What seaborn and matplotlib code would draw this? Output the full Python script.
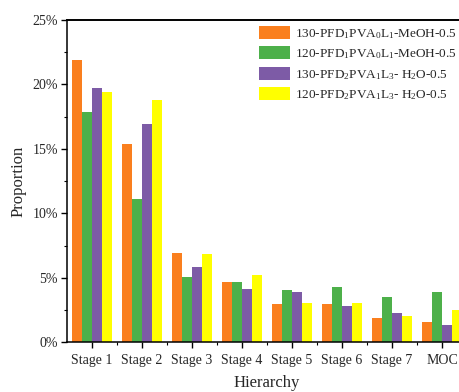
import matplotlib
matplotlib.use("Agg")
import matplotlib.pyplot as plt
import seaborn as sns
import pandas as pd
from matplotlib.ticker import FuncFormatter, MultipleLocator

categories = ["Stage 1", "Stage 2", "Stage 3", "Stage 4", "Stage 5", "Stage 6", "Stage 7", "MOC"]
series_names = [
    r"130-PFD$_{\mathrm{1}}$PVA$_{\mathrm{0}}$L$_{\mathrm{1}}$-MeOH-0.5",
    r"120-PFD$_{\mathrm{1}}$PVA$_{\mathrm{0}}$L$_{\mathrm{1}}$-MeOH-0.5",
    r"130-PFD$_{\mathrm{2}}$PVA$_{\mathrm{1}}$L$_{\mathrm{3}}$- H$_{\mathrm{2}}$O-0.5",
    r"120-PFD$_{\mathrm{2}}$PVA$_{\mathrm{1}}$L$_{\mathrm{3}}$- H$_{\mathrm{2}}$O-0.5",
]
s130_meoh = [21.9, 15.4, 6.95, 4.65, 2.97, 2.97, 1.86, 1.57]
s120_meoh = [17.9, 11.1, 5.1, 4.7, 4.08, 4.29, 3.51, 3.93]
s130_h2o = [19.7, 16.9, 5.85, 4.16, 3.87, 2.81, 2.27, 1.34]
s120_h2o = [19.4, 18.8, 6.82, 5.22, 3.05, 3.05, 2.01, 2.50]
colors = ["#FA7F1E", "#4DB04A", "#7D5BA6", "#FFFF00"]

rows = []
for name, vals in zip(series_names, [s130_meoh, s120_meoh, s130_h2o, s120_h2o]):
    for c, v in zip(categories, vals):
        rows.append({"Hierarchy": c, "Proportion": v, "Series": name})
df = pd.DataFrame(rows)

sns.set_style("white")
plt.rcParams["font.family"] = ["Liberation Serif", "DejaVu Serif"]
plt.rcParams["mathtext.fontset"] = "custom"
plt.rcParams["mathtext.rm"] = "Liberation Serif"
plt.rcParams["mathtext.it"] = "Liberation Serif:italic"
plt.rcParams["mathtext.bf"] = "Liberation Serif:bold"

fig = plt.figure(figsize=(4.59, 3.92), dpi=100)
ax = fig.add_axes([67 / 459, (392 - 342.3) / 392, 400 / 459, 322.3 / 392])

sns.barplot(data=df, x="Hierarchy", y="Proportion", hue="Series",
            palette=colors, saturation=1, width=0.8, ax=ax, legend=True,
            linewidth=0, edgecolor="none")

ax.set_xlim(-0.5, 7.5)
ax.set_ylim(0, 25)
ax.yaxis.set_major_locator(MultipleLocator(5))
ax.yaxis.set_minor_locator(MultipleLocator(2.5))
ax.yaxis.set_major_formatter(FuncFormatter(lambda v, p: f"{int(round(v))}%"))
ax.set_xticks([i + 0.5 for i in range(7)], minor=True)

for s in ax.spines.values():
    s.set_visible(True)
    s.set_color("black")
    s.set_linewidth(1.1)
ax.spines["top"].set_linewidth(1.4)

ax.tick_params(axis="both", which="major", direction="out", length=4.5, width=1,
               color="black", labelsize=10, pad=2)
ax.tick_params(axis="both", which="minor", direction="out", length=2.5, width=0.8,
               color="black")
ax.tick_params(axis="x", which="major", labelsize=10, pad=4)
ax.tick_params(left=True, bottom=True, which="both")

ax.set_xlabel("Hierarchy", fontsize=12, labelpad=6)
ax.set_ylabel("Proportion", fontsize=12, labelpad=4)

handles, labels = ax.get_legend_handles_labels()
ax.legend(handles, labels, loc="upper left", bbox_to_anchor=(259 / 459, 1 - 26 / 392),
          bbox_transform=fig.transFigure, frameon=False, fontsize=9.5,
          borderpad=0, borderaxespad=0, handlelength=2.35, handleheight=1.15,
          handletextpad=0.35, labelspacing=0.42)

fig.savefig("out.png", dpi=100)
